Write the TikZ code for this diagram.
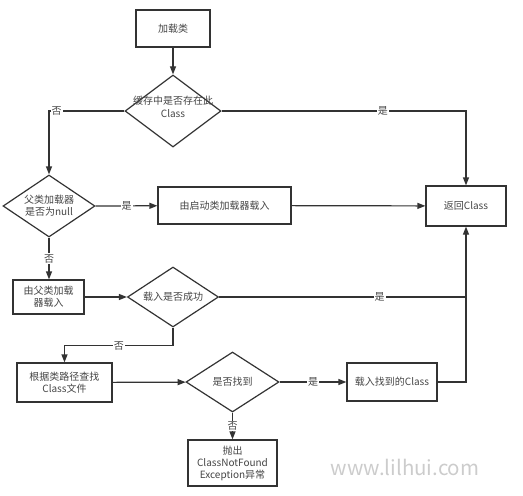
\documentclass[tikz,border=0pt]{standalone}
\usepackage{fontspec}
\setmainfont{Noto Sans CJK SC}
\usetikzlibrary{shapes.geometric,arrows.meta,positioning}
\definecolor{linegray}{HTML}{333333}
\definecolor{textgray}{HTML}{444444}
\newcommand{\nowidth}[1]{\makebox[0pt]{#1}}

\begin{document}
\begin{tikzpicture}[
    x=1pt, y=-1pt,
    every node/.style={font=\fontsize{10}{12}\selectfont, text=textgray},
    step_box/.style={rectangle, draw=linegray, line width=1.2pt, align=center, inner sep=2pt},
    decision/.style={diamond, draw=linegray, line width=1.2pt, align=center, inner sep=0pt, minimum width=92pt, minimum height=61pt},
    flow/.style={draw=linegray, line width=1.2pt, -{Triangle[length=8pt,width=6pt]}},
    join_line/.style={draw=linegray, line width=1.2pt},
    lbl/.style={fill=white, inner sep=1pt},
    mark_text/.style={font=\fontsize{20.5}{24}\selectfont, text=black!20}
]
\useasboundingbox (0,0) rectangle (523,496);

% Boxes
\node[step_box, minimum width=74pt, minimum height=37pt] (start) at (173,28.5) {加载类};
\node[step_box, minimum width=133pt, minimum height=37pt] (boot) at (224.5,205.5) {由启动类加载器载入};
\node[step_box, minimum width=80pt, minimum height=40pt] (ret) at (466,206) {返回Class};
\node[step_box, minimum width=71pt, minimum height=34pt] (parent) at (48.5,297) {由父类加载\\器载入};
\node[step_box, minimum width=95pt, minimum height=39pt] (search) at (64.5,382.5) {根据类路径查找\\Class文件};
\node[step_box, minimum width=90pt, minimum height=38pt] (found) at (392,382) {载入找到的Class};
\node[step_box, minimum width=89pt, minimum height=46pt, inner sep=1pt] (throw) at (232.5,463) {抛出\\ClassNotFound\\Exception异常};

% Decisions
\node[decision, minimum width=96pt, minimum height=72pt] (cache) at (173,111) {\nowidth{缓存中是否存在此}\\[1pt]Class\\[-4pt]};
\node[decision, minimum height=62pt] (isnull) at (49,206) {\nowidth{父类加载器}\\\nowidth{是否为null}};
\node[decision, minimum width=91pt, minimum height=60pt] (loaded) at (173,297) {\nowidth{载入是否成功}};
\node[decision, minimum width=93pt, minimum height=60pt] (exists) at (232.5,382) {\nowidth{是否找到}};

% Connectors
\draw[flow] (start) -- (cache);
\draw[flow] (cache.west) -| node[lbl, pos=0.45] {否} (isnull.north);
\draw[flow] (cache.east) -| node[lbl, pos=0.33] {是} (ret.north);
\draw[flow] (isnull.east) -- node[lbl] {是} (boot);
\draw[flow] (boot) -- (ret);
\draw[flow] (isnull.south) -- node[lbl] {否} (parent.north -| isnull.south);
\draw[flow] (parent) -- (loaded);
\coordinate (merge) at (ret.south |- loaded.east);
\draw[join_line] (loaded.east) -- node[lbl, pos=0.65] {是} (merge);
\draw[flow] (loaded.south) -- ++(0,18) -| node[lbl, pos=0.25] {否} (search.north);
\draw[flow] (search) -- (exists);
\draw[flow] (exists.east) -- node[lbl] {是} (found);
\draw[flow] (found.east) -| (ret.south);
\draw[flow] (exists.south) -- node[lbl] {否} (throw.north -| exists.south);

% Watermark
\node[mark_text] (wm) at (405,467) {www.lilhui.com};

\end{tikzpicture}
\end{document}
